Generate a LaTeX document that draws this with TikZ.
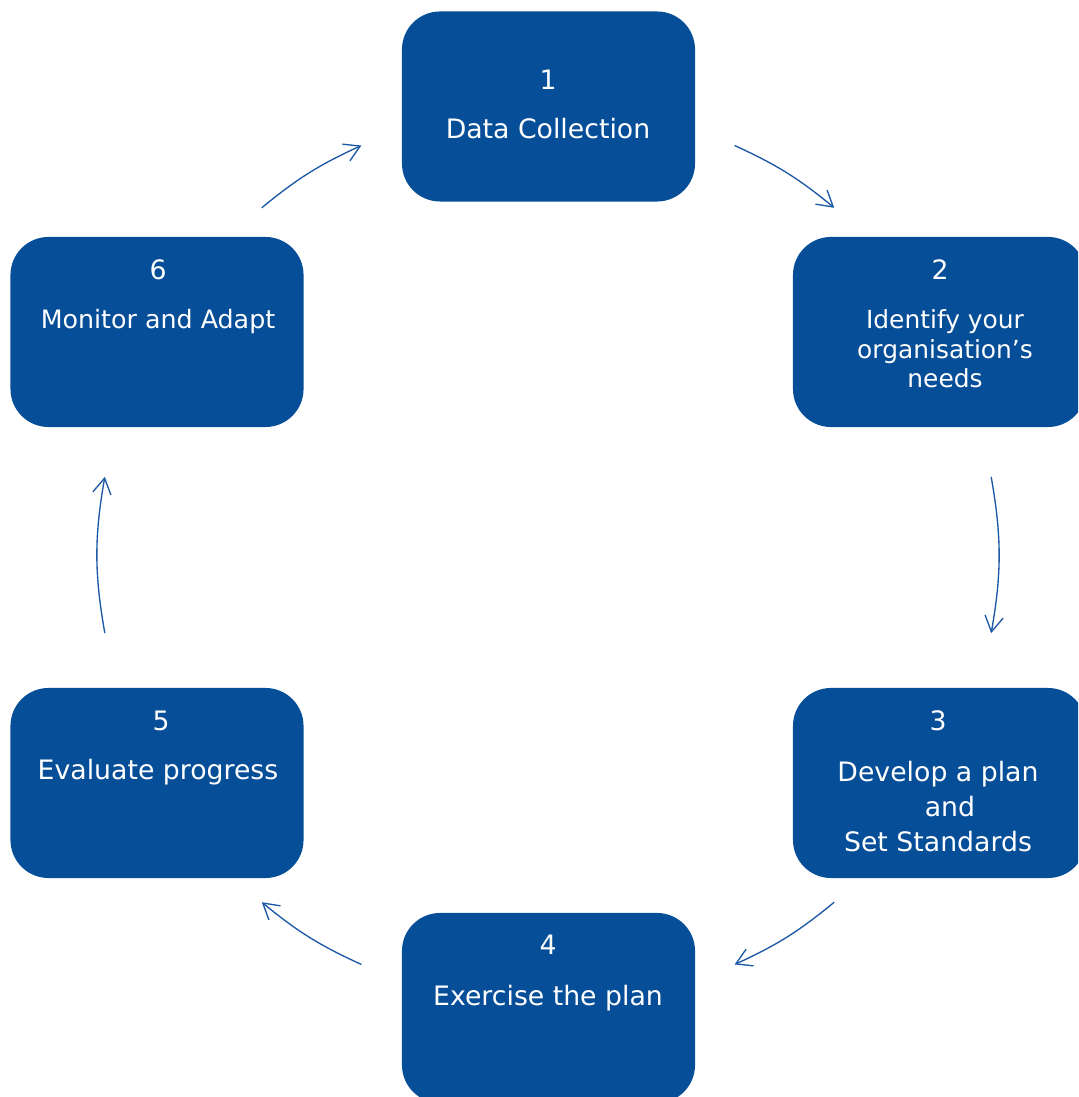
\documentclass[tikz,border=0pt]{standalone}
\usepackage{fontspec}
\setmainfont{DejaVu Sans}
\usetikzlibrary{arrows.meta}
\definecolor{boxblue}{RGB}{7,78,152}
\definecolor{arrowblue}{RGB}{28,88,166}

\begin{document}
\begin{tikzpicture}[x=0.025cm,y=0.025cm,
    stepbox/.style={fill=boxblue, rounded corners=0.95cm, minimum width=7.325cm, minimum height=4.75cm, inner sep=0pt},
    steptext/.style={text=white, anchor=base, align=center, inner sep=0pt, font=\fontsize{19}{25.2}\selectfont},
    flow/.style={draw=arrowblue, line width=0.95pt, -{Straight Barb[length=11pt,width=13pt]}}]

    %page:
    \clip (0,0) rectangle (1078,1097);
    \coordinate (c) at (548,542);

    %draw boxes:
    \node[stepbox] (collect) at (548.5,990.5) {};
    \node[stepbox] (needs) at (939.5,765) {};
    \node[stepbox] (plan) at (939.5,314) {};
    \node[stepbox] (exercise) at (548.5,89) {};
    \node[stepbox] (evaluate) at (157,314) {};
    \node[stepbox] (monitor) at (157,765) {};

    %numbers and texts (base of a text = its last line):
    \node[steptext] (collect num) at (548,1007) {1};
    \node[steptext] (collect txt) at (548,958) {Data Collection};
    \node[steptext] (needs num) at (940,817) {2};
    \node[steptext, font=\fontsize{17.7}{21}\selectfont] (needs txt) at (945,709) {Identify your\\organisation’s\\needs};
    \node[steptext] (plan num) at (938,366) {3};
    \node[steptext] (plan txt) at (938,245) {Develop a plan\\\hspace*{17pt}and\\Set Standards};
    \node[steptext] (exercise num) at (548,142) {4};
    \node[steptext] (exercise txt) at (548,91) {Exercise the plan};
    \node[steptext] (evaluate num) at (161,366) {5};
    \node[steptext] (evaluate txt) at (158,317) {Evaluate progress};
    \node[steptext] (monitor num) at (158,817) {6};
    \node[steptext, font=\fontsize{18}{22}\selectfont] (monitor txt) at (158,768) {Monitor and Adapt};

    %draw arrows round the cycle:
    \foreach \from/\to/\bend [count=\i] in {65.5/50.5/7.5, 10/-10/10, -50.5/-65.5/7.5, -114.5/-129.5/7.5, 190/170/10, 129.5/114.5/7.5}{
        \path (c) ++(\from:450) coordinate (s\i) (c) ++(\to:450) coordinate (e\i);
        \draw[flow] (s\i) to[bend left=\bend] (e\i);
    }

\end{tikzpicture}
\end{document}
